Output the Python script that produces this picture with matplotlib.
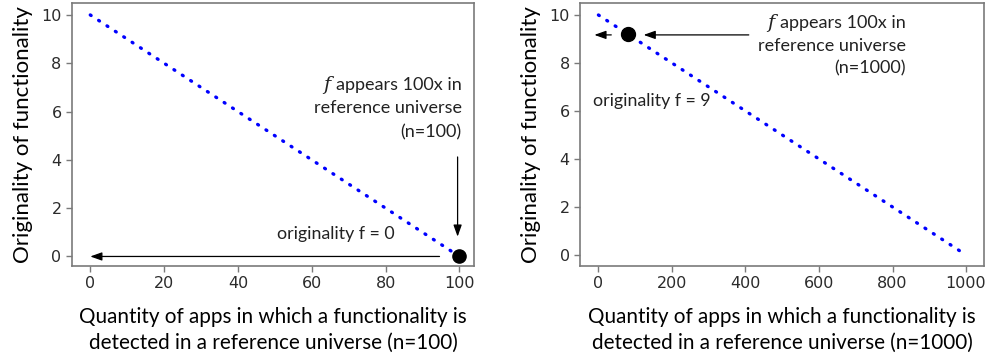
"""Originality vs. quantity of apps, two reference universes side by side."""

import matplotlib

matplotlib.use("Agg")
import matplotlib.pyplot as plt

# left panel: reference universe n=100
left_x = [0, 99]
left_y = [10, 0.1]
left_xticks = [0, 20, 40, 60, 80, 100]
left_point = (100, 0)

# right panel: reference universe n=1000
right_x = [0, 999]
right_y = [10, 0.01]
right_xticks = [0, 200, 400, 600, 800, 1000]
right_point = (80, 9.2)

yticks = [0, 2, 4, 6, 8, 10]

ylabel = "Originality of functionality"
xlabel_left = "Quantity of apps in which a functionality is\ndetected in a reference universe (n=100)"
xlabel_right = "Quantity of apps in which a functionality is\ndetected in a reference universe (n=1000)"
note_left = ["appears 100x in", "reference universe", "(n=100)"]
note_right = ["appears 100x in", "reference universe", "(n=1000)"]
orig_left = "originality f = 0"
orig_right = "originality f = 9"

TEXT_FONT = "Lato"

fig = plt.figure(figsize=(9.89, 3.56), dpi=100)
ax_l = fig.add_axes([0.0728, 0.2528, 0.4065, 0.7388])
ax_r = fig.add_axes([0.5865, 0.2528, 0.4085, 0.7388])


def style_axes(ax, xticks, xlim, ylim):
    ax.set_xlim(*xlim)
    ax.set_ylim(*ylim)
    ax.set_xticks(xticks)
    ax.set_yticks(yticks)
    for sp in ax.spines.values():
        sp.set_color("#7a7a7a")
        sp.set_linewidth(1.2)
    ax.tick_params(colors="#7a7a7a", labelcolor="#2b2b2b", labelsize=11.5,
                   length=4, width=1)


def dotted(ax, x, y):
    ax.plot(x, y, color="blue", linewidth=2.4,
            linestyle=(0, (0.3, 2.7)), dash_capstyle="round")


def note(ax, x, ys, lines):
    first = None
    for y, line in zip(ys, lines):
        t = ax.text(x, y, line, ha="right", va="center", fontsize=13,
                    family=TEXT_FONT, color="#222222")
        first = first or t
    # italic f in front of the first line
    ax.annotate("f", xy=(0, 0.5), xycoords=first, xytext=(-4, 0),
                textcoords="offset points", ha="right", va="center",
                fontsize=14, family="DejaVu Serif", style="italic",
                color="#222222")


arrow = dict(arrowstyle="-|>,head_length=0.7,head_width=0.25",
             color="black", lw=0.9, shrinkA=0, shrinkB=0)

# left panel
dotted(ax_l, left_x, left_y)
ax_l.plot(*left_point, "o", color="black", markersize=9.5, clip_on=False, zorder=5)
style_axes(ax_l, left_xticks, (-4.95, 103.95), (-0.395, 10.495))
ax_l.annotate("", xy=(99.5, 0.82), xytext=(99.5, 4.12), arrowprops=arrow)
ax_l.annotate("", xy=(0, 0), xytext=(94.6, 0), arrowprops=arrow)
note(ax_l, 100.6, [7.08, 6.13, 5.14], note_left)
ax_l.text(66.4, 0.95, orig_left, ha="center", va="center", fontsize=12.8,
          family=TEXT_FONT, color="#222222")
ax_l.set_ylabel(ylabel, fontsize=16, family=TEXT_FONT, labelpad=6)
ax_l.set_xlabel(xlabel_left, fontsize=14.9, family=TEXT_FONT,
                linespacing=1.4, labelpad=11)

# right panel
dotted(ax_r, right_x, right_y)
ax_r.plot(*right_point, "o", color="black", markersize=10, zorder=5)
style_axes(ax_r, right_xticks, (-49.95, 1048.95), (-0.46, 10.5))
ax_r.annotate("", xy=(123, 9.17), xytext=(409, 9.17), arrowprops=arrow)
ax_r.annotate("", xy=(-11, 9.17), xytext=(35, 9.17), arrowprops=arrow)
note(ax_r, 837, [9.67, 8.71, 7.76], note_right)
ax_r.text(-16, 6.43, orig_right, ha="left", va="center", fontsize=12.8,
          family=TEXT_FONT, color="#222222")
ax_r.set_ylabel(ylabel, fontsize=16, family=TEXT_FONT, labelpad=6)
ax_r.set_xlabel(xlabel_right, fontsize=14.9, family=TEXT_FONT,
                linespacing=1.4, labelpad=11)

fig.savefig("out.png", dpi=100)
